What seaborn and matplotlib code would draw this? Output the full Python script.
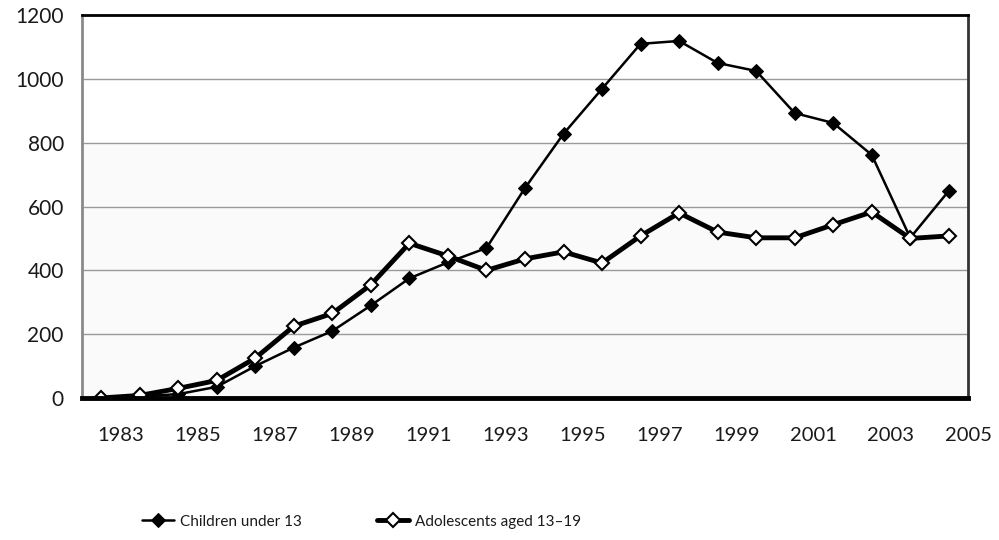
import numpy as np
import pandas as pd
import seaborn as sns
import matplotlib.pyplot as plt

# значения
years = list(range(1982, 2005))
children = [0, 5, 12, 35, 100, 158, 210, 290, 375, 425, 470, 658, 828, 969,
            1110, 1119, 1050, 1025, 893, 862, 762, 502, 649]
adolescents = [0, 8, 30, 55, 125, 225, 265, 355, 485, 445, 400, 436, 458, 423,
               508, 580, 520, 502, 502, 543, 583, 500, 508]
tick_years = list(range(1982, 2006))
label_years = [y for y in tick_years if y % 2 == 1]

sns.set_style("white")
plt.rcParams['font.family'] = ['Lato', 'DejaVu Sans']

df = pd.DataFrame({"year": years, "children": children, "adolescents": adolescents})
# точки стоят в середине интервала года
df["pos"] = df["year"] + 0.5

fig = plt.figure(figsize=(9.99, 5.4), dpi=100)
ax = fig.add_axes([0.082, 0.263, 0.887, 0.709])

ax.axhspan(0, 800, color="#fafafa", zorder=0)
for v in [200, 400, 600, 800, 1000]:
    ax.axhline(v, color="#9a9a9a", lw=1, zorder=1)

sns.lineplot(data=df, x="pos", y="children", ax=ax, color="black", lw=1.8,
             marker="D", markersize=7.5, markerfacecolor="black",
             markeredgecolor="black", label="Children under 13", zorder=3)
sns.lineplot(data=df, x="pos", y="adolescents", ax=ax, color="black", lw=3.5,
             marker="D", markersize=7, markerfacecolor="white",
             markeredgecolor="black", markeredgewidth=1.5,
             label="Adolescents aged 13\u201319", zorder=4)

ax.set_xlim(1982, 2005)
ax.set_ylim(0, 1200)
ax.set_xticks(tick_years)
ax.set_xticklabels([str(y) if y in label_years else "" for y in tick_years])
ax.set_yticks([0, 200, 400, 600, 800, 1000, 1200])
ax.set_xlabel("")
ax.set_ylabel("")

ax.tick_params(axis="x", direction="out", length=8, width=2, color="black",
               pad=13, labelsize=14.5, labelcolor="#1a1a1a")
ax.tick_params(axis="y", direction="out", length=7, width=1.2, color="#888888",
               pad=6, labelsize=15, labelcolor="#1a1a1a")

ax.spines["left"].set_color("#8a8a8a")
ax.spines["left"].set_linewidth(2)
ax.spines["top"].set_color("black")
ax.spines["top"].set_linewidth(2)
ax.spines["right"].set_color("#333333")
ax.spines["right"].set_linewidth(2)
ax.spines["bottom"].set_color("black")
ax.spines["bottom"].set_linewidth(3.5)
for s in ax.spines.values():
    s.set_visible(True)
    s.set_zorder(5)

ax.get_legend().remove()
handles, labels = ax.get_legend_handles_labels()
leg = fig.legend(handles, labels, loc="center left", bbox_to_anchor=(0.128, 0.034),
                 ncol=2, frameon=False, fontsize=11, handlelength=2.1,
                 handletextpad=0.4, columnspacing=4.9)
for t in leg.get_texts():
    t.set_color("#1a1a1a")

fig.savefig("out.png", dpi=100)
